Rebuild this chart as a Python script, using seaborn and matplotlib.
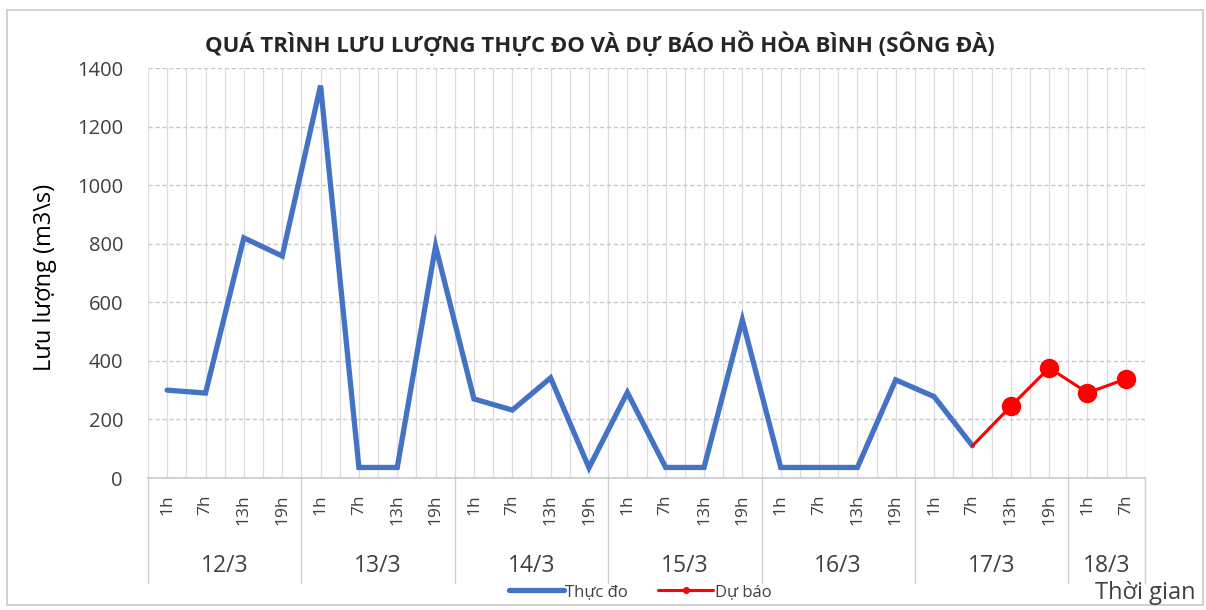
import numpy as np
import pandas as pd
import matplotlib.pyplot as plt
from matplotlib.lines import Line2D
from matplotlib.patches import Rectangle
import seaborn as sns

# Dữ liệu
ngay = ['12/3', '13/3', '14/3', '15/3', '16/3', '17/3', '18/3']
so_gio_moi_ngay = [4, 4, 4, 4, 4, 4, 2]
gio = ['1h', '7h', '13h', '19h'] * 6 + ['1h', '7h']

thuc_do = [300, 290, 820, 758, 1340, 36, 36, 792,
           270, 232, 342, 35, 292, 36, 36, 540,
           36, 36, 36, 335, 278, 110]
du_bao = [110, 245, 376, 291, 338]
vi_tri_du_bao = 21  # 17/3 7h

sns.set_theme(style="white")
plt.rcParams['font.family'] = ['Open Sans', 'DejaVu Sans']

mau_xanh = '#4472C4'
mau_do = '#FF0000'

df_do = pd.DataFrame({'x': np.arange(len(thuc_do)), 'q': thuc_do})
df_bao = pd.DataFrame({'x': np.arange(vi_tri_du_bao, vi_tri_du_bao + len(du_bao)), 'q': du_bao})

fig = plt.figure(figsize=(12.06, 6.10), dpi=100)
ax = fig.add_axes([148 / 1206, 1 - 478 / 610, (1145 - 148) / 1206, 410 / 610])

sns.lineplot(data=df_do, x='x', y='q', ax=ax, color=mau_xanh, linewidth=3.8,
             solid_joinstyle='miter', zorder=3)
sns.lineplot(data=df_bao, x='x', y='q', ax=ax, color=mau_do, linewidth=2.2,
             marker='o', markersize=14, markeredgewidth=0,
             markevery=list(range(1, len(du_bao))), zorder=4)

n = len(gio)
ax.set_xlim(-0.5, n - 0.5)
ax.set_ylim(0, 1400)
ax.set_yticks(range(0, 1401, 200))
ax.tick_params(axis='y', labelsize=14.5, colors='#404040', length=0, pad=18)
ax.set_xticks(np.arange(-0.5, n, 0.5))
ax.set_xticklabels([])
ax.tick_params(axis='x', length=0)
ax.set_xlabel('')
ax.set_ylabel('')

# lưới
ax.grid(axis='x', color='#DCDCDC', linewidth=0.9, linestyle='-')
ax.grid(axis='y', color='#C8C8C8', linewidth=1.0, linestyle=(0, (3, 2)))
ax.set_axisbelow(True)
for s in ['left', 'right', 'top']:
    ax.spines[s].set_visible(False)
ax.spines['bottom'].set_color('#C8C8C8')
ax.spines['bottom'].set_linewidth(1.2)

# nhãn trục x hai tầng
tr = ax.get_xaxis_transform()
for i, g in enumerate(gio):
    ax.text(i, -0.04, g, transform=tr, rotation=90, ha='center', va='top',
            fontsize=12.5, color='#404040')
bien = np.cumsum([0] + so_gio_moi_ngay) - 0.5
for b in bien:
    ax.add_line(Line2D([b, b], [0, -0.255], transform=tr, color='#D0D0D0',
                       linewidth=1.0, clip_on=False))
for k, d in enumerate(ngay):
    tam = (bien[k] + bien[k + 1]) / 2
    ax.text(tam, -0.215, d, transform=tr, ha='center', va='center',
            fontsize=16.5, color='#404040')

fig.text(0.497, 0.927, 'QUÁ TRÌNH LƯU LƯỢNG THỰC ĐO VÀ DỰ BÁO HỒ HÒA BÌNH (SÔNG ĐÀ)',
         ha='center', va='center', fontsize=16, fontweight='bold', color='#262626')
fig.text(45 / 1206, 1 - 277 / 610, 'Lưu lượng (m3\\s)', rotation=90,
         ha='center', va='center', fontsize=17, color='black')
fig.text(1145 / 1206, 1 - 593 / 610, 'Thời gian', ha='center', va='center',
         fontsize=17, color='#404040')

handles = [Line2D([], [], color=mau_xanh, linewidth=3.8),
           Line2D([], [], color=mau_do, linewidth=2.2, marker='o', markersize=4)]
fig.legend(handles, ['Thực đo', 'Dự báo'], loc='center', bbox_to_anchor=(640 / 1206, 1 - 592 / 610),
           ncol=2, frameon=False, fontsize=12, handlelength=3.3, handletextpad=0.1,
           columnspacing=1.8, labelcolor='#404040')

fig.patches.append(Rectangle((7 / 1206, 1 - 605 / 610), 1196 / 1206, 595 / 610,
                             transform=fig.transFigure, fill=False,
                             edgecolor='#C8C8C8', linewidth=1.2))

fig.savefig('out.png', dpi=100)
